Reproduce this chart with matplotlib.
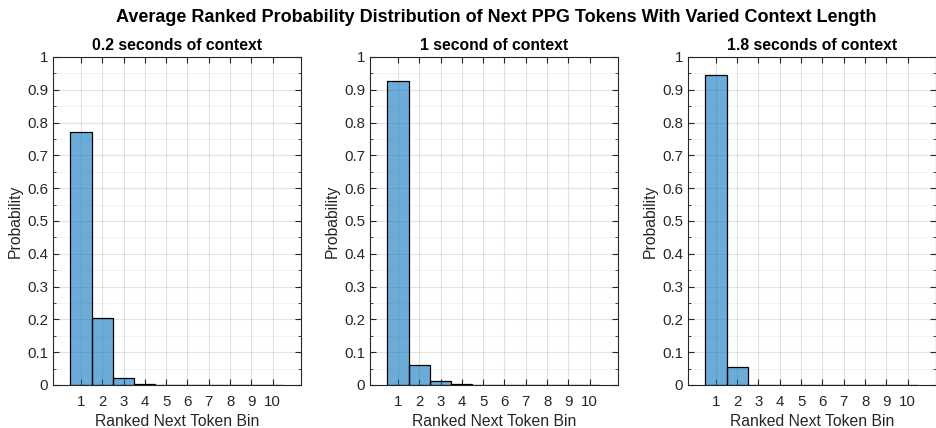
import numpy as np
import matplotlib
matplotlib.use("Agg")
import matplotlib.pyplot as plt
from matplotlib.ticker import MultipleLocator

plt.rcParams['font.family'] = ['Liberation Sans', 'DejaVu Sans']

bins = [1, 2, 3, 4, 5, 6, 7, 8, 9, 10]
prob_02s = [0.770, 0.205, 0.022, 0.003, 0.001, 0.0005, 0.0005, 0.0003, 0.0002, 0.0002]
prob_1s = [0.928, 0.062, 0.011, 0.002, 0.0005, 0.0003, 0.0002, 0.0001, 0.0001, 0.0001]
prob_18s = [0.946, 0.054, 0.0005, 0.0002, 0.0001, 0.0001, 0.0001, 0.0001, 0.0001, 0.0001]
titles = ["0.2 seconds of context", "1 second of context", "1.8 seconds of context"]
series = [prob_02s, prob_1s, prob_18s]
ytick_vals = [0, 0.1, 0.2, 0.3, 0.4, 0.5, 0.6, 0.7, 0.8, 0.9, 1]
ytick_labels = ['0', '0.1', '0.2', '0.3', '0.4', '0.5', '0.6', '0.7', '0.8', '0.9', '1']

face = (0.0, 0.447, 0.741)
axis_col = (0.15, 0.15, 0.15)

fig = plt.figure(figsize=(9.36, 4.28), dpi=100)
lefts = [0.0566, 0.3953, 0.735]
for left, title, vals in zip(lefts, titles, series):
    ax = fig.add_axes([left, 0.1005, 0.265, 0.7664])
    ax.bar(bins, vals, width=1.0, color=face, alpha=0.58, edgecolor='none', zorder=3)
    ax.bar(bins, vals, width=1.0, fill=False, edgecolor='black', linewidth=0.9, zorder=4)
    ax.set_xlim(-0.31, 11.33)
    ax.set_ylim(0, 1)
    ax.set_xticks(bins)
    ax.set_xticklabels([str(b) for b in bins])
    ax.set_yticks(ytick_vals)
    ax.set_yticklabels(ytick_labels)
    ax.yaxis.set_minor_locator(MultipleLocator(0.05))
    ax.grid(True, which='major', color=(0.15, 0.15, 0.15), alpha=0.13, linewidth=0.8, zorder=0)
    ax.grid(True, which='minor', axis='y', color=(0.1, 0.1, 0.1), alpha=0.06, linewidth=0.6, zorder=0)
    ax.set_axisbelow(True)
    for s in ax.spines.values():
        s.set_color(axis_col)
        s.set_linewidth(0.8)
    ax.tick_params(which='both', direction='in', top=True, right=True,
                   colors=axis_col, labelcolor=axis_col, labelsize=10.8, length=4)
    ax.tick_params(which='minor', length=2.5)
    ax.tick_params(axis='x', pad=7)
    ax.set_title(title, fontsize=11.3, fontweight='bold', pad=5)
    ax.set_xlabel("Ranked Next Token Bin", fontsize=11.3, color=axis_col, labelpad=4)
    ax.set_ylabel("Probability", fontsize=11.3, color=axis_col, labelpad=3)

fig.suptitle("Average Ranked Probability Distribution of Next PPG Tokens With Varied Context Length",
             fontsize=13, fontweight='bold', x=0.53, y=0.98)
fig.savefig("out.png", dpi=100)
